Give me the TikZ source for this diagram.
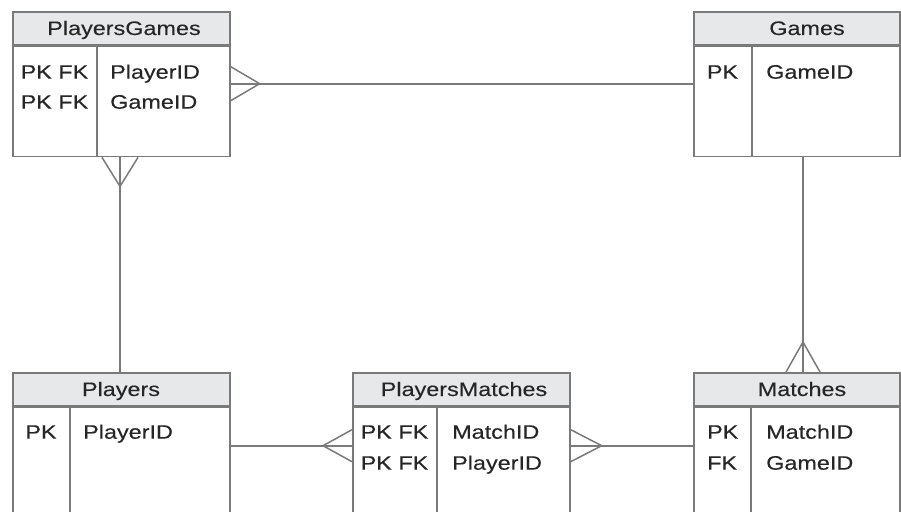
\documentclass[tikz,border=0pt]{standalone}
\usepackage{fontspec}
\setmainfont[FakeStretch=1.2,FakeBold=0.2]{Liberation Sans}
\usepackage{xcolor}
\definecolor{cLine}{HTML}{7A7A7A}
\definecolor{cHead}{HTML}{E7E8E9}
\definecolor{cText}{HTML}{262626}
\usepackage{tikz}
\usetikzlibrary{positioning,calc}
\tikzset{
  tbl-head/.style={draw=cLine,line width=1.7pt,fill=cHead,anchor=north west,
    minimum height=33pt,inner sep=0pt},
  tbl-body/.style={draw=cLine,line width=1.7pt,fill=white,anchor=north west,
    inner sep=0pt},
  tbl-div/.style={draw=cLine,line width=1.7pt},
  tbl-title/.style={anchor=base,inner sep=0pt,text=cText,
    font=\fontsize{19.5}{23}\selectfont},
  tbl-key/.style={anchor=base,inner sep=0pt,text=cText,
    font=\fontsize{19.5}{23}\selectfont},
  tbl-field/.style={anchor=base west,inner sep=0pt,text=cText,
    font=\fontsize{19.5}{23}\selectfont},
  rel/.style={draw=cLine,line width=1.6pt},
  crow/.style={draw=cLine,line width=1.5pt,line join=miter},
}

\begin{document}
\begin{tikzpicture}[x=1pt,y=-1pt]
  \useasboundingbox (0,0) rectangle (901,511);
  \clip (0,0) rectangle (901,511);

  % top row
  \node[tbl-head,minimum width=217pt] (pg-head) at (12,11) {};
  \node[tbl-body,minimum width=217pt,minimum height=110pt] (pg-body) at (pg-head.south west) {};
  \draw[tbl-div] ($(pg-body.north west)+(85,0)$) -- ($(pg-body.south west)+(85,0)$);
  \node[tbl-title] (pg-title) at ($(pg-head.north west)+(112,24)$) {PlayersGames};
  \node[tbl-key] (pg-k1) at ($(pg-body.north west)+(42.5,33)$) {PK FK};
  \node[tbl-key] (pg-k2) at ($(pg-body.north west)+(42.5,63)$) {PK FK};
  \node[tbl-field] (pg-f1) at ($(pg-body.north west)+(98,33)$) {PlayerID};
  \node[tbl-field] (pg-f2) at ($(pg-body.north west)+(98,63)$) {GameID};

  \node[tbl-head,minimum width=206pt] (g-head) at (693,11) {};
  \node[tbl-body,minimum width=206pt,minimum height=110pt] (g-body) at (g-head.south west) {};
  \draw[tbl-div] ($(g-body.north west)+(59,0)$) -- ($(g-body.south west)+(59,0)$);
  \node[tbl-title] (g-title) at ($(g-head.north west)+(114,24)$) {Games};
  \node[tbl-key] (g-k1) at ($(g-body.north west)+(29.5,33)$) {PK};
  \node[tbl-field] (g-f1) at ($(g-body.north west)+(73,33)$) {GameID};

  % bottom row
  \node[tbl-head,minimum width=217pt] (p-head) at (12,372) {};
  \node[tbl-body,minimum width=217pt,minimum height=150pt] (p-body) at (p-head.south west) {};
  \draw[tbl-div] ($(p-body.north west)+(58,0)$) -- ($(p-body.south west)+(58,0)$);
  \node[tbl-title] (p-title) at ($(p-head.north west)+(109,24)$) {Players};
  \node[tbl-key] (p-k1) at ($(p-body.north west)+(29,32)$) {PK};
  \node[tbl-field] (p-f1) at ($(p-body.north west)+(71,32)$) {PlayerID};

  \node[tbl-head,minimum width=217pt] (pm-head) at (352,372) {};
  \node[tbl-body,minimum width=217pt,minimum height=150pt] (pm-body) at (pm-head.south west) {};
  \draw[tbl-div] ($(pm-body.north west)+(85,0)$) -- ($(pm-body.south west)+(85,0)$);
  \node[tbl-title] (pm-title) at ($(pm-head.north west)+(112,24)$) {PlayersMatches};
  \node[tbl-key] (pm-k1) at ($(pm-body.north west)+(42.5,32)$) {PK FK};
  \node[tbl-key] (pm-k2) at ($(pm-body.north west)+(42.5,63)$) {PK FK};
  \node[tbl-field] (pm-f1) at ($(pm-body.north west)+(100,32)$) {MatchID};
  \node[tbl-field] (pm-f2) at ($(pm-body.north west)+(100,63)$) {PlayerID};

  \node[tbl-head,minimum width=206pt] (m-head) at (693,372) {};
  \node[tbl-body,minimum width=206pt,minimum height=150pt] (m-body) at (m-head.south west) {};
  \draw[tbl-div] ($(m-body.north west)+(58,0)$) -- ($(m-body.south west)+(58,0)$);
  \node[tbl-title] (m-title) at ($(m-head.north west)+(109,24)$) {Matches};
  \node[tbl-key,anchor=base west] (m-k1) at ($(m-body.north west)+(14,32)$) {PK};
  \node[tbl-key,anchor=base west] (m-k2) at ($(m-body.north west)+(14,63)$) {FK};
  \node[tbl-field] (m-f1) at ($(m-body.north west)+(73,32)$) {MatchID};
  \node[tbl-field] (m-f2) at ($(m-body.north west)+(73,63)$) {GameID};

  % relationships
  \coordinate (pg-g) at ($(pg-body.north east)+(0,38)$);
  \draw[rel] (pg-g) -- (pg-g -| g-body.west);
  \draw[crow] ($(pg-g)+(0,-17)$) -- ($(pg-g)+(29,0)$) -- ($(pg-g)+(0,17)$);

  \coordinate (pg-p) at ($(pg-body.south west)+(108,0)$);
  \draw[rel] (pg-p) -- (pg-p |- p-head.north);
  \draw[crow] ($(pg-p)+(-18,0)$) -- ($(pg-p)+(0,29)$) -- ($(pg-p)+(18,0)$);

  \coordinate (g-m) at ($(g-body.south west)+(110,0)$);
  \draw[rel] (g-m) -- (g-m |- m-head.north);
  \coordinate (m-g) at (g-m |- m-head.north);
  \draw[crow] ($(m-g)+(-17,0)$) -- ($(m-g)+(0,-30)$) -- ($(m-g)+(17,0)$);

  \coordinate (p-pm) at ($(p-body.north east)+(0,39)$);
  \draw[rel] (p-pm) -- (p-pm -| pm-body.west);
  \coordinate (pm-p) at (p-pm -| pm-body.west);
  \draw[crow] ($(pm-p)+(0,-16)$) -- ($(pm-p)+(-29,0)$) -- ($(pm-p)+(0,16)$);

  \coordinate (pm-m) at ($(pm-body.north east)+(0,39)$);
  \draw[rel] (pm-m) -- (pm-m -| m-body.west);
  \draw[crow] ($(pm-m)+(0,-16)$) -- ($(pm-m)+(31,0)$) -- ($(pm-m)+(0,16)$);
\end{tikzpicture}
\end{document}
